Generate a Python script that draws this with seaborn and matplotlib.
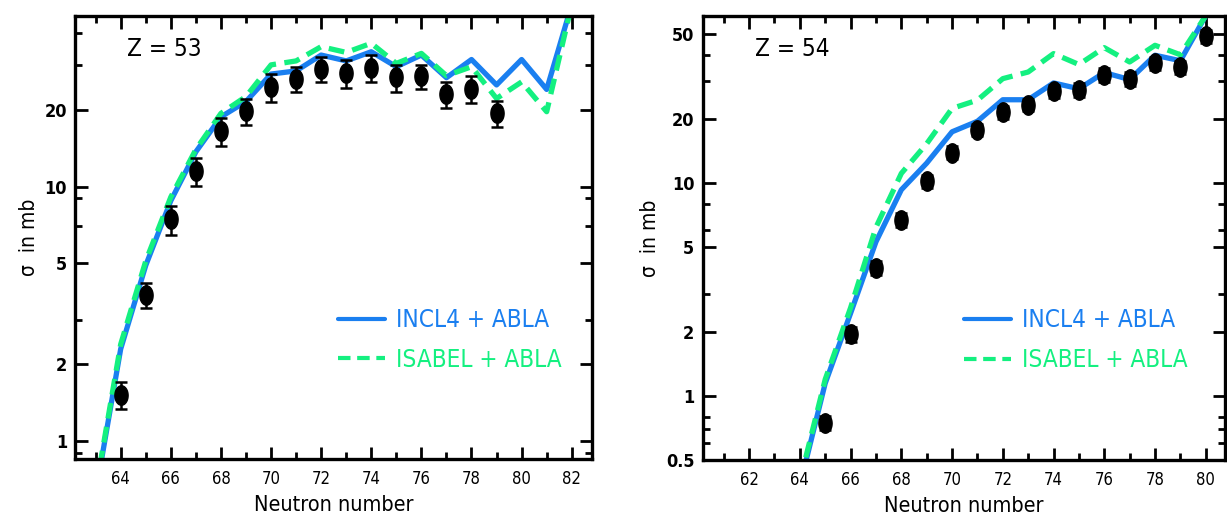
import numpy as np
import pandas as pd
import matplotlib
matplotlib.use('Agg')
import matplotlib.pyplot as plt
import seaborn as sns
from matplotlib.lines import Line2D
from matplotlib.path import Path
from matplotlib.ticker import FixedLocator, NullFormatter

# Z = 53 data
n53 = [64, 65, 66, 67, 68, 69, 70, 71, 72, 73, 74, 75, 76, 77, 78, 79]
sig53 = [1.52, 3.75, 7.45, 11.5, 16.5, 19.8, 24.6, 26.6, 29.0, 27.9, 29.3, 26.9, 27.2, 23.1, 24.3, 19.4]
err53 = [0.18, 0.43, 0.97, 1.45, 2.1, 2.3, 3.0, 3.0, 3.3, 3.5, 3.5, 3.3, 2.9, 2.75, 2.95, 2.3]
nmod53 = list(range(63, 83))
incl53 = [0.62, 2.3, 4.9, 8.8, 13.7, 18.8, 21.6, 27.7, 28.5, 32.9, 31.2, 33.9, 29.6, 32.9, 26.8, 31.6, 25.1, 31.6, 24.1, 52]
isabel53 = [0.64, 2.4, 5.1, 9.1, 14.0, 19.4, 22.6, 30.1, 31.2, 35.5, 33.7, 36.6, 30.5, 33.4, 27.3, 29.6, 22.2, 25.8, 19.7, 52]

# Z = 54 data
n54 = [65, 66, 67, 68, 69, 70, 71, 72, 73, 74, 75, 76, 77, 78, 79, 80]
sig54 = [0.75, 1.95, 4.0, 6.7, 10.2, 13.9, 17.8, 21.5, 23.3, 27.0, 27.4, 32.2, 30.8, 36.5, 34.9, 48.8]
err54 = [0.06, 0.15, 0.3, 0.5, 0.7, 1.0, 1.2, 1.5, 1.6, 2.0, 2.0, 2.4, 2.3, 2.6, 2.5, 3.5]
nmod54 = list(range(64, 81))
incl54 = [0.38, 1.15, 2.45, 5.3, 9.3, 12.4, 17.4, 19.5, 24.6, 24.6, 29.5, 27.7, 33.0, 30.6, 39.8, 37.5, 61]
isabel54 = [0.40, 1.2, 2.6, 6.2, 11.1, 15.3, 22.4, 24.5, 30.9, 33.2, 40.5, 36.0, 43.2, 37.0, 44.3, 40.0, 61]

models = ['INCL4 + ABLA', 'ISABEL + ABLA']
BLUE = '#1a7ff0'
GREEN = '#14f080'

sns.set_style('ticks')
plt.rcParams['font.family'] = ['DejaVu Sans']
plt.rcParams['font.stretch'] = 'condensed'
for k in ['text.color', 'axes.labelcolor', 'xtick.color', 'ytick.color', 'axes.edgecolor']:
    plt.rcParams[k] = 'black'

# tall ellipse marker for the data points
t = np.linspace(0, 2 * np.pi, 40)
ellipse = Path(np.column_stack([0.68 * np.cos(t), np.sin(t)]), closed=True)

fig = plt.figure(figsize=(12.27, 5.2), dpi=100)
ax1 = fig.add_axes([0.0614, 0.1179, 0.4213, 0.852])
ax2 = fig.add_axes([0.5727, 0.1148, 0.4259, 0.855])


def panel(ax, nmod, incl, isabel, n, sig, err, xlim, ylim, majors, minors, xmaj, label, leg_xy):
    df = pd.DataFrame({'N': nmod * 2, 'sigma': incl + isabel,
                       'model': [models[0]] * len(nmod) + [models[1]] * len(nmod)})
    ax.set_yscale('log')
    sns.lineplot(data=df, x='N', y='sigma', hue='model', style='model',
                 palette={models[0]: BLUE, models[1]: GREEN},
                 dashes={models[0]: '', models[1]: (3, 1.6)},
                 linewidth=3.8, ax=ax, legend=False)
    ax.errorbar(n, sig, yerr=err, fmt='none', ecolor='black', elinewidth=1.8,
                capsize=4.3, capthick=1.8, zorder=5)
    ax.plot(n, sig, linestyle='none', marker=ellipse, markersize=14,
            color='black', zorder=6)
    ax.set_xlim(*xlim)
    ax.set_ylim(*ylim)
    ax.yaxis.set_major_locator(FixedLocator(majors))
    ax.set_yticklabels([('%g' % v) for v in majors])
    ax.yaxis.set_minor_locator(FixedLocator(minors))
    ax.yaxis.set_minor_formatter(NullFormatter())
    ax.set_xticks(xmaj)
    ax.set_xticklabels([str(v) for v in xmaj])
    ax.xaxis.set_minor_locator(FixedLocator([v + 1 for v in xmaj] + [xmaj[0] - 1]))
    ax.tick_params(which='both', direction='in', top=True, right=True, width=2)
    ax.tick_params(which='major', length=9)
    ax.tick_params(which='minor', length=5)
    ax.tick_params(axis='y', labelsize=13, pad=6)
    ax.tick_params(axis='x', labelsize=12, pad=8)
    for lab in ax.get_yticklabels():
        lab.set_fontweight('bold')
    for s in ax.spines.values():
        s.set_linewidth(2.4)
        s.set_visible(True)
    ax.set_xlabel('Neutron number', fontsize=15.5, labelpad=5)
    ax.set_ylabel('σ  in mb', fontsize=15, labelpad=4)
    ax.text(0.1, 0.925, label, transform=ax.transAxes, fontsize=17.5,
            ha='left', va='center')
    handles = [Line2D([], [], color=BLUE, lw=3.0),
               Line2D([], [], color=GREEN, lw=3.0, dashes=(3, 1.6))]
    ax.legend(handles, models, loc='center left', bbox_to_anchor=leg_xy,
              frameon=False, fontsize=17.5, labelcolor='linecolor',
              borderpad=0, borderaxespad=0,
              handlelength=1.95, handletextpad=0.45, labelspacing=0.65)


panel(ax1, nmod53, incl53, isabel53, n53, sig53, err53,
      (62.19, 82.82), (0.852, 47), [1, 2, 5, 10, 20], [0.9, 3, 7, 9, 30, 40],
      list(range(64, 83, 2)), 'Z = 53', (0.508, 0.268))
panel(ax2, nmod54, incl54, isabel54, n54, sig54, err54,
      (60.17, 80.77), (0.5, 61), [0.5, 1, 2, 5, 10, 20, 50],
      [0.6, 0.7, 0.8, 3, 6, 8, 30, 40], list(range(62, 81, 2)), 'Z = 54', (0.5, 0.27))

fig.savefig('out.png', dpi=100)
